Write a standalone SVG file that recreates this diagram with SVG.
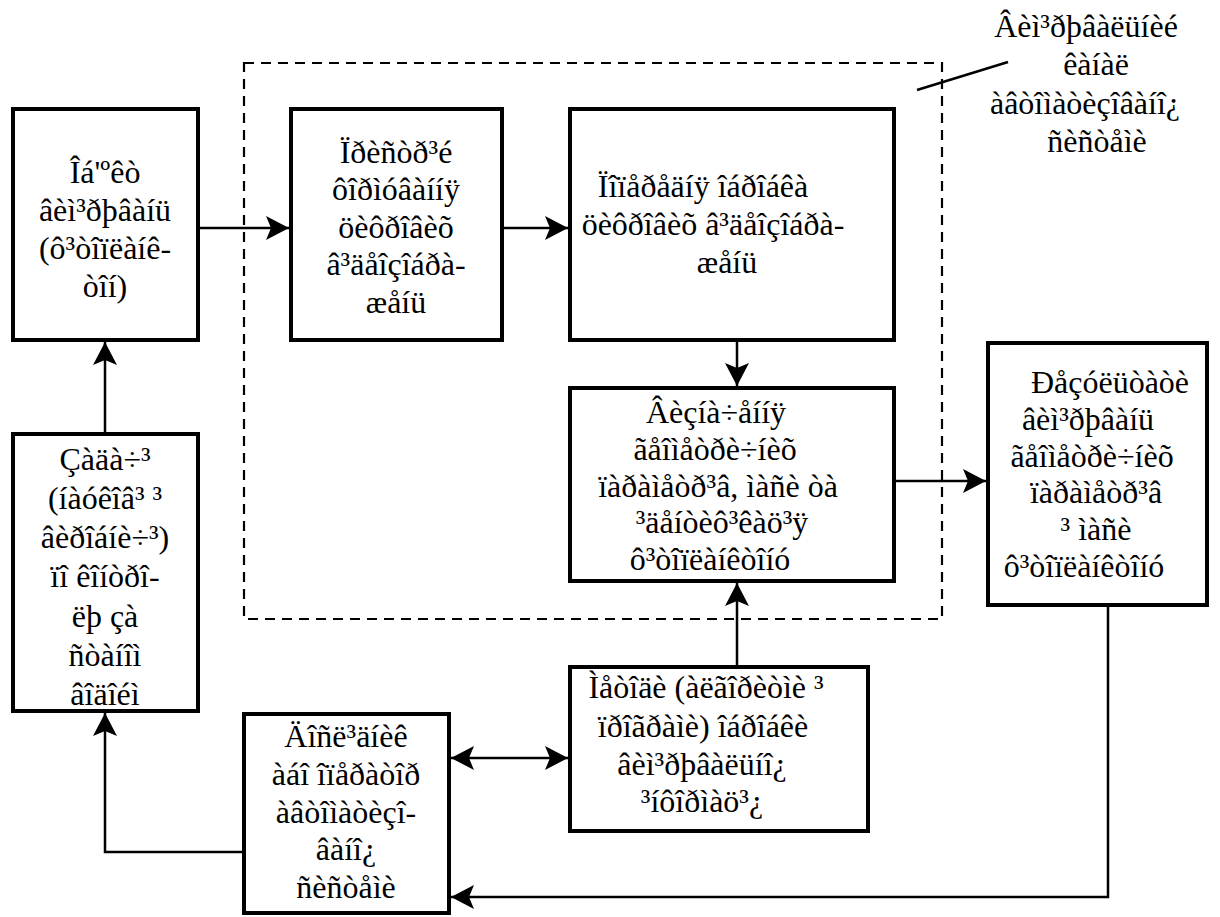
<svg xmlns="http://www.w3.org/2000/svg" width="1220" height="917" viewBox="0 0 1220 917">
<style>
.box{fill:#fff;stroke:#000;stroke-width:4}
.t{font-family:"Liberation Serif","Times New Roman",Times,serif;font-size:32px;fill:#000;text-anchor:middle}
.c{fill:none;stroke:#000;stroke-width:2.5}
.dash{fill:none;stroke:#000;stroke-width:2.2;stroke-dasharray:10 7}
</style>
<defs>
<marker id="ah" markerUnits="userSpaceOnUse" markerWidth="26" markerHeight="28" viewBox="-25 -14 26 28" refX="0" refY="0" orient="auto-start-reverse">
<path d="M0,0 L-23,-12 L-18,0 L-23,12 Z" fill="#000"/>
</marker>
</defs>
<rect width="1220" height="917" fill="#fff"/>
<g id="system-boundary">
<rect class="dash" x="244" y="63" width="698" height="556"/>
<line x1="917" y1="90" x2="1008" y2="62" stroke="#000" stroke-width="2.5"/>
<text class="t"><tspan x="1086" y="37">Âèì³ðþâàëüíèé</tspan><tspan x="1096" y="75">êàíàë</tspan><tspan x="1085" y="114">àâòîìàòèçîâàíî¿</tspan><tspan x="1097" y="152">ñèñòåìè</tspan></text>
</g>
<g id="connectors">
<path class="c" d="M198,228 H289" marker-end="url(#ah)"/>
<path class="c" d="M502,228 H568" marker-end="url(#ah)"/>
<path class="c" d="M737,340 V386" marker-end="url(#ah)"/>
<path class="c" d="M894,481 H986" marker-end="url(#ah)"/>
<path class="c" d="M105,434 V342" marker-end="url(#ah)"/>
<path class="c" d="M451,758 H568" marker-start="url(#ah)" marker-end="url(#ah)"/>
<path class="c" d="M1108,605 V897 H451" marker-end="url(#ah)"/>
<path class="c" d="M244,852 H105 V713" marker-end="url(#ah)"/>
<path class="c" d="M737,667 V583" marker-end="url(#ah)"/>
</g>
<g id="object">
<rect class="box" x="13" y="109" width="185" height="231"/>
<text class="t"><tspan x="105" y="183">Îá'ºêò</tspan><tspan x="105" y="221">âèì³ðþâàíü</tspan><tspan x="105" y="259">(ô³òîïëàíê-</tspan><tspan x="105" y="297">òîí)</tspan></text>
</g>
<g id="device">
<rect class="box" x="291" y="109" width="211" height="231"/>
<text class="t"><tspan x="396" y="163">Ïðèñòð³é</tspan><tspan x="396" y="200">ôîðìóâàííÿ</tspan><tspan x="396" y="238">öèôðîâèõ</tspan><tspan x="396" y="275">â³äåîçîáðà-</tspan><tspan x="396" y="313">æåíü</tspan></text>
</g>
<g id="preprocessing">
<rect class="box" x="570" y="109" width="324" height="231"/>
<text class="t"><tspan x="703" y="197">Ïîïåðåäíÿ îáðîáêà</tspan><tspan x="713" y="235">öèôðîâèõ â³äåîçîáðà-</tspan><tspan x="727" y="273">æåíü</tspan></text>
</g>
<g id="determination">
<rect class="box" x="570" y="388" width="324" height="193"/>
<text class="t"><tspan x="716" y="423">Âèçíà÷åííÿ</tspan><tspan x="715" y="460">ãåîìåòðè÷íèõ</tspan><tspan x="718" y="497">ïàðàìåòð³â, ìàñè òà</tspan><tspan x="722" y="533">³äåíòèô³êàö³ÿ</tspan><tspan x="710" y="570">ô³òîïëàíêòîíó</tspan></text>
</g>
<g id="results">
<rect class="box" x="988" y="343" width="219" height="262"/>
<text class="t"><tspan x="1110" y="393">Ðåçóëüòàòè</tspan><tspan x="1088" y="430">âèì³ðþâàíü</tspan><tspan x="1092" y="467">ãåîìåòðè÷íèõ</tspan><tspan x="1096" y="503">ïàðàìåòð³â</tspan><tspan x="1096" y="540">³ ìàñè</tspan><tspan x="1084" y="577">ô³òîïëàíêòîíó</tspan></text>
</g>
<g id="tasks">
<rect class="box" x="13" y="434" width="185" height="277"/>
<text class="t"><tspan x="105" y="470">Çàäà÷³</tspan><tspan x="105" y="509">(íàóêîâ³ ³</tspan><tspan x="105" y="548">âèðîáíè÷³)</tspan><tspan x="105" y="587">ïî êîíòðî-</tspan><tspan x="105" y="627">ëþ çà</tspan><tspan x="105" y="666">ñòàíîì</tspan><tspan x="105" y="705">âîäîéì</tspan></text>
</g>
<g id="researcher">
<rect class="box" x="244" y="714" width="205" height="199"/>
<text class="t"><tspan x="346" y="747">Äîñë³äíèê</tspan><tspan x="346" y="785">àáî îïåðàòîð</tspan><tspan x="346" y="823">àâòîìàòèçî-</tspan><tspan x="346" y="860">âàíî¿</tspan><tspan x="346" y="898">ñèñòåìè</tspan></text>
</g>
<g id="methods">
<rect class="box" x="570" y="667" width="298" height="164"/>
<text class="t"><tspan x="706" y="698">Ìåòîäè (àëãîðèòìè ³</tspan><tspan x="703" y="737">ïðîãðàìè) îáðîáêè</tspan><tspan x="702" y="775">âèì³ðþâàëüíî¿</tspan><tspan x="702" y="812">³íôîðìàö³¿</tspan></text>
</g>
</svg>
